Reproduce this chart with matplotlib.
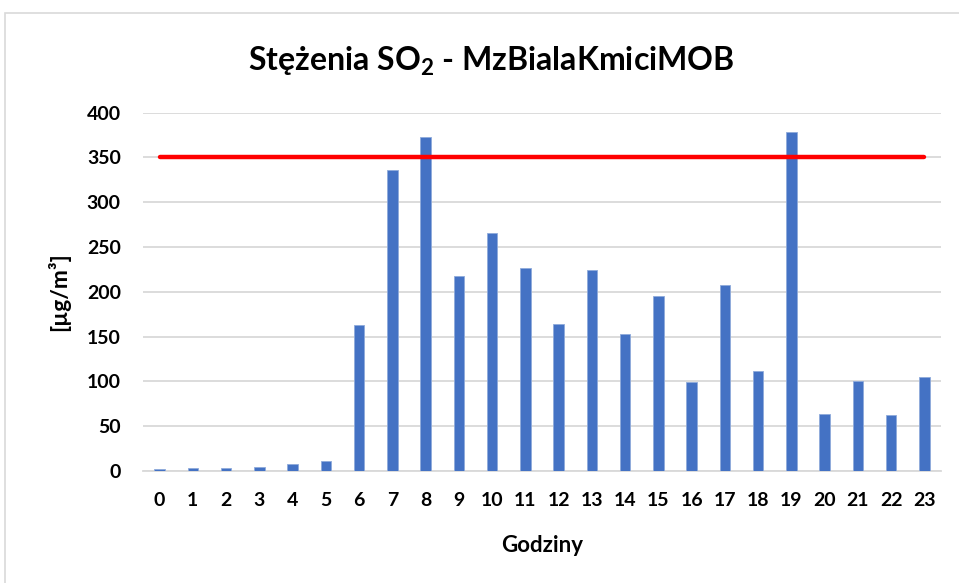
import matplotlib
matplotlib.use("Agg")
import matplotlib.pyplot as plt
from matplotlib.patches import Rectangle

hours = list(range(24))
tick_labels = [str(h) for h in hours]
so2 = [2, 3, 3, 4.5, 7.5, 11.6, 163, 335.5, 372.5, 218, 265, 227, 163.5, 224,
       152.5, 195, 99, 208, 112, 378, 64, 100.5, 62, 105]
limit_value = 350
title_text = "Stężenia SO$_2$ - MzBialaKmiciMOB"
y_label = "[µg/m³]"
x_label = "Godziny"
y_ticks = [0, 50, 100, 150, 200, 250, 300, 350, 400]

plt.rcParams['font.family'] = ['Lato', 'DejaVu Sans']
plt.rcParams['font.weight'] = 'bold'
plt.rcParams['mathtext.fontset'] = 'custom'
plt.rcParams['mathtext.rm'] = 'Lato:bold'
plt.rcParams['mathtext.it'] = 'Lato:bold'
plt.rcParams['mathtext.bf'] = 'Lato:bold'

W, H = 959, 583
fig = plt.figure(figsize=(W / 100, H / 100), dpi=100)
fig.patch.set_facecolor('white')

# chart border
fig.patches.append(Rectangle((5 / W, -0.1), 1.2, (H - 13) / H + 0.1,
                             transform=fig.transFigure, fill=False,
                             edgecolor='#d9d9d9', linewidth=1.2))

ax = fig.add_axes([143 / W, (H - 471) / H, (941 - 143) / W, (471 - 112.5) / H])
ax.bar(hours, so2, width=0.31, color='#4472C4', edgecolor='#8eaadb',
       linewidth=0.6, zorder=3)
ax.plot([hours[0], hours[-1]], [limit_value, limit_value], color='#FF0000',
        linewidth=3.2, solid_capstyle='round', zorder=4)

ax.set_xlim(-0.5, 23.5)
ax.set_ylim(0, 400)
ax.set_yticks(y_ticks)
ax.set_xticks(hours)
ax.set_xticklabels(tick_labels)
ax.grid(axis='y', color='#d9d9d9', linewidth=1.3, zorder=0)
ax.set_axisbelow(True)
for s in ['top', 'right', 'left']:
    ax.spines[s].set_visible(False)
ax.spines['bottom'].set_color('#d9d9d9')
ax.spines['bottom'].set_linewidth(1.3)
ax.tick_params(axis='both', length=0, labelsize=14)
ax.tick_params(axis='y', pad=16)
ax.tick_params(axis='x', pad=15)

ax.set_ylabel(y_label, fontsize=16.5, fontweight='bold', labelpad=12)
ax.set_xlabel(x_label, fontsize=16, fontweight='bold', labelpad=19)
fig.text(491 / W, 1 - 71 / H, title_text, fontsize=23, fontweight='bold',
         ha='center', va='baseline')

fig.savefig('out.png', dpi=100, facecolor='white')
